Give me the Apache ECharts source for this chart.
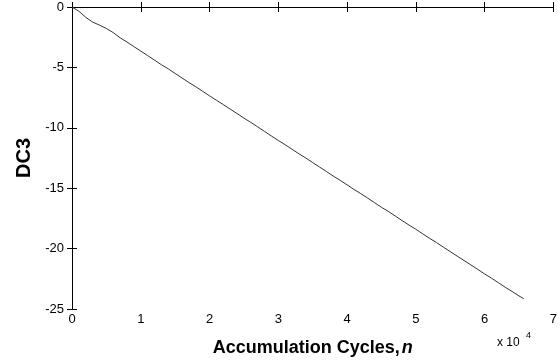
<!DOCTYPE html>
<html><head><meta charset="utf-8">
<script src="https://cdn.jsdelivr.net/npm/echarts@6/dist/echarts.min.js"></script>
<style>html,body{margin:0;padding:0;background:#fff}#c{width:560px;height:364px}</style>
</head><body><div id="c"></div>
<script>
const cycles = [0,0.1,0.2,0.3,0.4,0.5,0.6,0.7,0.8,0.9,1.0,1.1,1.2,1.3,1.4,1.5,1.6,1.7,1.8,1.9,2.0,2.1,2.2,2.3,2.4,2.5,2.6,2.7,2.8,2.9,3.0,3.1,3.2,3.3,3.4,3.5,3.6,3.7,3.8,3.9,4.0,4.1,4.2,4.3,4.4,4.5,4.6,4.7,4.8,4.9,5.0,5.1,5.2,5.3,5.4,5.5,5.6,5.7,5.8,5.9,6.0,6.1,6.2,6.3,6.4,6.5,6.57];
const dc3 = [0,-0.35,-0.85,-1.25,-1.5,-1.78,-2.12,-2.55,-2.9,-3.28,-3.65,-4.02,-4.4,-4.78,-5.12,-5.5,-5.88,-6.25,-6.6,-6.98,-7.35,-7.72,-8.08,-8.45,-8.82,-9.2,-9.55,-9.92,-10.3,-10.68,-11.05,-11.4,-11.78,-12.15,-12.5,-12.88,-13.25,-13.62,-14.0,-14.35,-14.72,-15.1,-15.45,-15.82,-16.2,-16.58,-16.92,-17.3,-17.68,-18.05,-18.4,-18.78,-19.15,-19.5,-19.88,-20.25,-20.62,-20.98,-21.35,-21.72,-22.1,-22.45,-22.82,-23.2,-23.55,-23.92,-24.15];
const xTicks = [0,1,2,3,4,5,6,7];
const yTicks = [-25,-20,-15,-10,-5,0];

const chart = echarts.init(document.getElementById('c'));
const FF = 'Liberation Sans, Arial, sans-serif';
const lbl = () => ({color:'#000', fontFamily:FF, fontSize:13});
const line = () => ({show:true, lineStyle:{color:'#000', width:1}});
const tick = () => ({show:true, inside:true, length:5, lineStyle:{color:'#000', width:1}});
chart.setOption({
  animation:false,
  grid:{left:72, right:6, top:7, bottom:55, containLabel:false},
  xAxis:[
    {type:'value', min:xTicks[0], max:xTicks[xTicks.length-1], interval:1, position:'bottom',
     axisLine:line(), axisTick:tick(),
     splitLine:{show:false}, axisLabel:Object.assign({margin:4},lbl()),
     name:'{a|Accumulation Cycles,}{b|n}', nameLocation:'middle', nameGap:30,
     nameTextStyle:{rich:{
        a:{fontFamily:FF, fontWeight:'bold', fontSize:18, color:'#000'},
        b:{fontFamily:FF, fontWeight:'bold', fontStyle:'italic', fontSize:18, color:'#000', padding:[0,0,0,2]}
     }}},
    {type:'value', min:0, max:7, interval:1, position:'top',
     axisLine:line(), axisTick:tick(),
     splitLine:{show:false}, axisLabel:{show:false}}
  ],
  yAxis:[
    {type:'value', min:yTicks[0], max:yTicks[yTicks.length-1], interval:5, position:'left',
     axisLine:line(), axisTick:tick(),
     splitLine:{show:false}, axisLabel:Object.assign({margin:8},lbl()),
     name:'DC3', nameLocation:'middle', nameGap:34, nameRotate:90,
     nameTextStyle:{fontFamily:FF, fontWeight:'bold', fontSize:20, color:'#000'}},
    {type:'value', min:-25, max:0, interval:5, position:'right',
     axisLine:line(), axisTick:tick(),
     splitLine:{show:false}, axisLabel:{show:false}}
  ],
  series:[{
    type:'line', showSymbol:false, symbol:'none',
    data: cycles.map((c,i)=>[c,dc3[i]]),
    lineStyle:{color:'#333', width:1}
  }],
  graphic:[
    {type:'text', left:497, top:337, style:{text:'x 10', fontFamily:FF, fontSize:12, fill:'#000'}},
    {type:'text', left:526, top:331, style:{text:'4', fontFamily:FF, fontSize:9, fill:'#000'}}
  ]
});
</script></body></html>
